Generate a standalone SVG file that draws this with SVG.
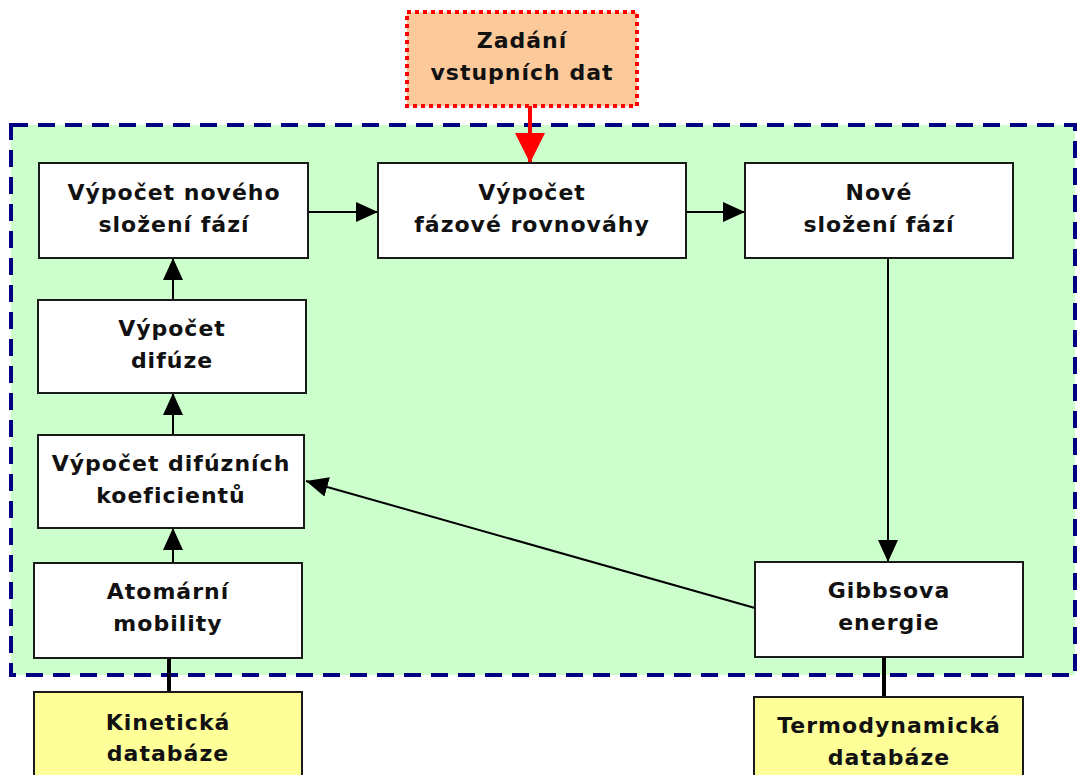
<svg xmlns="http://www.w3.org/2000/svg" width="1077" height="775" viewBox="0 0 1077 775">
<style>
.box{fill:#ffffff;stroke:#1a1a1a;stroke-width:2}
.db{fill:#ffff99;stroke:#1a1a1a;stroke-width:2}
.t{font-family:"DejaVu Sans",Verdana,sans-serif;font-weight:bold;font-size:22px;letter-spacing:1px;fill:#111;text-anchor:middle}
.c{fill:none;stroke:#000;stroke-width:2}
</style>
<defs>
<marker id="ah" markerUnits="userSpaceOnUse" markerWidth="22" markerHeight="20" refX="22" refY="10" orient="auto">
<path d="M0,0 L22,10 L0,20 Z" fill="#000"/>
</marker>
<marker id="ahr" markerUnits="userSpaceOnUse" markerWidth="30" markerHeight="30" refX="30" refY="15" orient="auto">
<path d="M0,0 L30,15 L0,30 Z" fill="#ff0000"/>
</marker>
</defs>
<rect id="region" x="11" y="125" width="1064" height="550" fill="#ccffcc" stroke="#000080" stroke-width="4" stroke-dasharray="17 10"/>
<g id="connectors">
<line class="c" x1="530" y1="106" x2="530" y2="163" stroke="#ff0000" style="stroke:#ff0000;stroke-width:4" marker-end="url(#ahr)"/>
<line class="c" x1="308" y1="212" x2="378" y2="212" marker-end="url(#ah)"/>
<line class="c" x1="686" y1="212" x2="745" y2="212" marker-end="url(#ah)"/>
<line class="c" x1="888" y1="258" x2="888" y2="562" marker-end="url(#ah)"/>
<line class="c" x1="173" y1="300" x2="173" y2="258" marker-end="url(#ah)"/>
<line class="c" x1="173" y1="435" x2="173" y2="393" marker-end="url(#ah)"/>
<line class="c" x1="173" y1="563" x2="173" y2="528" marker-end="url(#ah)"/>
<line class="c" x1="755" y1="608" x2="306" y2="481" marker-end="url(#ah)"/>
<line class="c" x1="169" y1="658" x2="169" y2="692" style="stroke-width:4"/>
<line class="c" x1="884" y1="657" x2="884" y2="697" style="stroke-width:4"/>
</g>
<g id="input">
<rect x="407" y="12" width="230" height="94" fill="#fbc99a" stroke="#ff0000" stroke-width="4" stroke-dasharray="4 4"/>
<text class="t" x="522" y="48">Zadání</text>
<text class="t" x="522" y="80">vstupních dat</text>
</g>
<g id="novy">
<rect class="box" x="39" y="163" width="269" height="95"/>
<text class="t" x="174" y="200">Výpočet nového</text>
<text class="t" x="174" y="232">složení fází</text>
</g>
<g id="rovnovaha">
<rect class="box" x="378" y="163" width="308" height="95"/>
<text class="t" x="532" y="200">Výpočet</text>
<text class="t" x="532" y="232">fázové rovnováhy</text>
</g>
<g id="nove">
<rect class="box" x="745" y="163" width="268" height="95"/>
<text class="t" x="879" y="200">Nové</text>
<text class="t" x="879" y="232">složení fází</text>
</g>
<g id="difuze">
<rect class="box" x="38" y="300" width="268" height="93"/>
<text class="t" x="172" y="336">Výpočet</text>
<text class="t" x="172" y="368">difúze</text>
</g>
<g id="koeficienty">
<rect class="box" x="38" y="435" width="266" height="93"/>
<text class="t" x="171" y="471">Výpočet difúzních</text>
<text class="t" x="171" y="503">koeficientů</text>
</g>
<g id="mobility">
<rect class="box" x="34" y="563" width="268" height="95"/>
<text class="t" x="168" y="599">Atomární</text>
<text class="t" x="168" y="631">mobility</text>
</g>
<g id="gibbs">
<rect class="box" x="755" y="562" width="268" height="95"/>
<text class="t" x="889" y="598">Gibbsova</text>
<text class="t" x="889" y="630">energie</text>
</g>
<g id="kineticka">
<rect class="db" x="34" y="692" width="268" height="95"/>
<text class="t" x="168" y="730">Kinetická</text>
<text class="t" x="168" y="761">databáze</text>
</g>
<g id="termodynamicka">
<rect class="db" x="754" y="697" width="269" height="95"/>
<text class="t" x="889" y="733">Termodynamická</text>
<text class="t" x="889" y="765">databáze</text>
</g>
</svg>
